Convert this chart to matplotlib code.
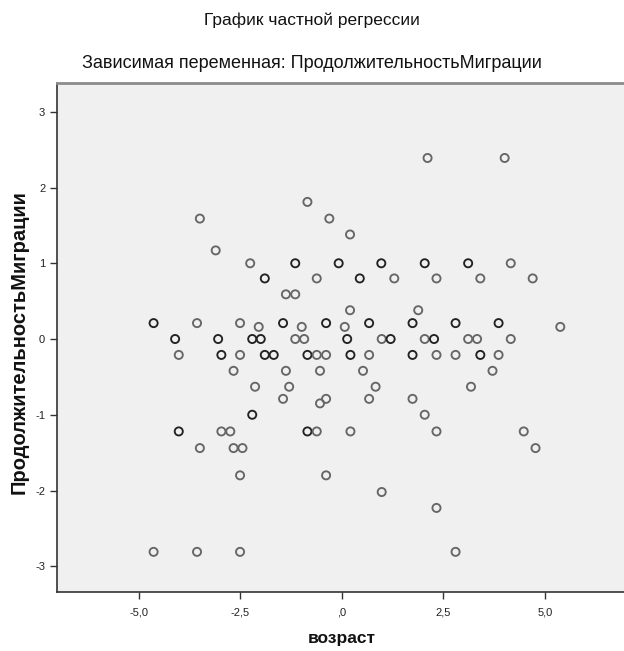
import matplotlib.pyplot as plt
import numpy as np

plt.rcParams['font.family'] = ['Liberation Sans', 'DejaVu Sans']
plt.rcParams['axes.unicode_minus'] = False

# partial regression residuals
age = [-3.50, -3.11, -2.26, -4.64, -3.57, -2.51, -4.11, -3.05, -2.21, -2.00,
       2.11, -0.85, -0.31, 0.20, -1.15, -0.08, 0.97, 2.04, -1.90, -0.62,
       0.44, 1.29, 2.33, -1.38, -1.15, 0.20, 1.88, -2.05, -1.45, -0.99,
       -0.39, 0.07, 0.67, 1.74, -1.15, -0.93, 0.13, 0.98, 1.20, 2.04,
       2.27, 4.01, 3.11, 4.16, 3.41, 4.70, 2.80, 3.86, 5.38, 3.11,
       3.33, 4.16, -4.02, -2.97, -2.51, -2.67, -2.14, -2.21, -4.02, -2.97,
       -2.75, -3.50, -2.67, -2.45, -2.51, -4.64, -3.57, -2.51, -1.90, -1.68,
       -0.85, -0.62, -0.39, 0.21, 0.67, 1.74, 2.33, -1.38, -0.54, 0.52,
       -1.30, 0.83, -1.45, -0.54, -0.39, 0.67, 1.74, 2.04, -0.85, -0.62,
       0.21, 2.33, -0.39, 0.98, 2.33, 2.80, 3.41, 3.86, 3.71, 3.18,
       4.48, 4.77, 2.80]
duration = [1.59, 1.17, 1.00, 0.21, 0.21, 0.21, 0.00, 0.00, 0.00, 0.00,
            2.39, 1.81, 1.59, 1.38, 1.00, 1.00, 1.00, 1.00, 0.80, 0.80,
            0.80, 0.80, 0.80, 0.59, 0.59, 0.38, 0.38, 0.16, 0.21, 0.16,
            0.21, 0.16, 0.21, 0.21, 0.00, 0.00, 0.00, 0.00, 0.00, 0.00,
            0.00, 2.39, 1.00, 1.00, 0.80, 0.80, 0.21, 0.21, 0.16, 0.00,
            0.00, 0.00, -0.21, -0.21, -0.21, -0.42, -0.63, -1.00, -1.22, -1.22,
            -1.22, -1.44, -1.44, -1.44, -1.80, -2.81, -2.81, -2.81, -0.21, -0.21,
            -0.21, -0.21, -0.21, -0.21, -0.21, -0.21, -0.21, -0.42, -0.42, -0.42,
            -0.63, -0.63, -0.79, -0.85, -0.79, -0.79, -0.79, -1.00, -1.22, -1.22,
            -1.22, -1.22, -1.80, -2.02, -2.23, -0.21, -0.21, -0.21, -0.42, -0.63,
            -1.22, -1.44, -2.81]
# how many cases sit on the same spot (darker ring when >1)
overlap = [1, 1, 1, 2, 1, 1, 2, 2, 2, 2,
           1, 1, 1, 1, 2, 2, 2, 2, 2, 1,
           2, 1, 1, 1, 1, 1, 1, 1, 2, 1,
           2, 1, 2, 2, 1, 1, 2, 1, 2, 1,
           2, 1, 2, 1, 1, 1, 2, 2, 1, 1,
           1, 1, 1, 2, 1, 1, 1, 2, 2, 1,
           1, 1, 1, 1, 1, 1, 1, 1, 2, 2,
           2, 1, 1, 2, 1, 2, 1, 1, 1, 1,
           1, 1, 1, 1, 1, 1, 1, 1, 2, 1,
           1, 1, 1, 1, 1, 1, 2, 1, 1, 1,
           1, 1, 1]

x_ticks = [-5.0, -2.5, 0.0, 2.5, 5.0]
x_tick_labels = ["-5,0", "-2,5", ",0", "2,5", "5,0"]
y_ticks = [-3, -2, -1, 0, 1, 2, 3]

fig = plt.figure(figsize=(6.24, 6.51), dpi=100)
ax = fig.add_axes([57 / 624, 59 / 651, 567 / 624, 509 / 651])
ax.set_facecolor('#f0f0f0')

ov = np.array(overlap)
edge = np.where(ov > 1, '#222222', '#666666')
ax.scatter(age, duration, s=34, facecolors='none', edgecolors=edge,
           linewidths=1.35, zorder=3)

ax.set_xlim(-7.02, 6.95)
ax.set_ylim(-3.34, 3.38)
ax.set_xticks(x_ticks)
ax.set_xticklabels(x_tick_labels)
ax.set_yticks(y_ticks)
ax.tick_params(direction='out', length=5, width=1, color='#333333',
               labelsize=8, labelcolor='#222222')
ax.tick_params(axis='x', pad=6)

ax.spines['right'].set_visible(False)
ax.spines['top'].set_color('#8c8c8c')
ax.spines['top'].set_linewidth(2)
for s in ['left', 'bottom']:
    ax.spines[s].set_color('#333333')
    ax.spines[s].set_linewidth(1.2)

fig.text(342 / 624, 1 - 638 / 651, "возраст", ha='center', va='center',
         fontsize=12.5, fontweight='bold', color='#111111')
fig.text(19 / 624, 1 - 342 / 651, "ПродолжительностьМиграции", rotation=90,
         ha='center', va='center', fontsize=14.5, fontweight='bold', color='#111111')

fig.text(0.5, 1 - 20 / 651, "График частной регрессии", ha='center', va='center',
         fontsize=12.5, color='#111111')
fig.text(0.5, 1 - 64 / 651, "Зависимая переменная: ПродолжительностьМиграции",
         ha='center', va='center', fontsize=13, color='#111111')

fig.savefig("out.png", dpi=100)
